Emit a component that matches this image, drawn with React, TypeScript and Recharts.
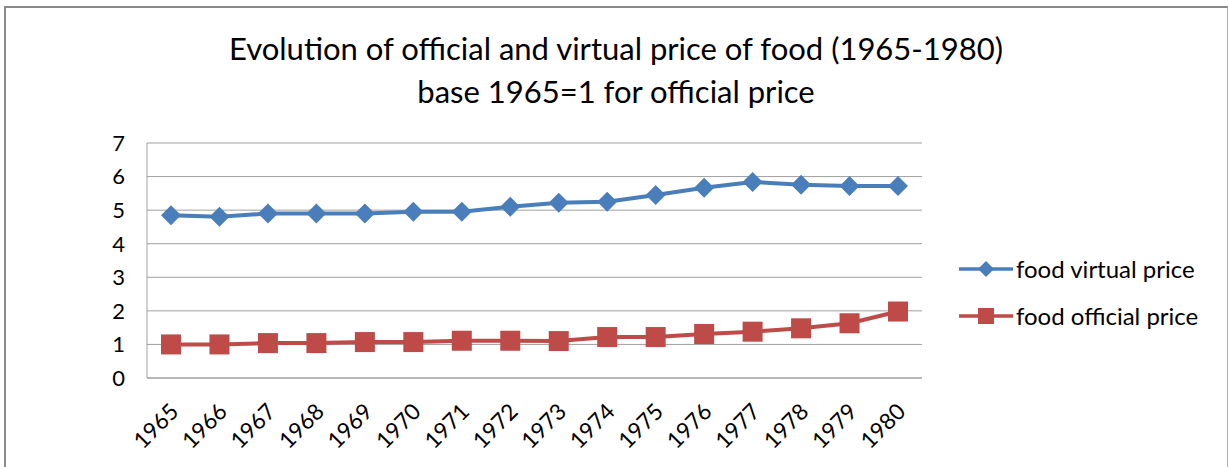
import { CartesianGrid, Legend, Line, LineChart, XAxis, YAxis } from "recharts";

const years = ["1965", "1966", "1967", "1968", "1969", "1970", "1971", "1972", "1973", "1974", "1975", "1976", "1977", "1978", "1979", "1980"];
const virtualPrice = [4.85, 4.8, 4.9, 4.9, 4.9, 4.95, 4.95, 5.1, 5.22, 5.25, 5.45, 5.67, 5.84, 5.76, 5.72, 5.72];
const officialPrice = [1.0, 1.0, 1.04, 1.04, 1.07, 1.07, 1.11, 1.11, 1.1, 1.22, 1.22, 1.31, 1.38, 1.48, 1.63, 1.98];
const yTicks = [0, 1, 2, 3, 4, 5, 6, 7];

const BLUE = "#4a7ebb";
const RED = "#be4b48";
const FONT = "Lato, 'Open Sans', sans-serif";

const chartData = years.map((year, i) => ({
  year,
  virtual: virtualPrice[i],
  official: officialPrice[i],
}));

function Diamond({ cx, cy, fill }: any) {
  if (cx == null || cy == null) return null;
  const r = 10;
  return <path d={`M${cx},${cy - r}L${cx + r},${cy}L${cx},${cy + r}L${cx - r},${cy}Z`} fill={fill} />;
}

function Square({ cx, cy, fill }: any) {
  if (cx == null || cy == null) return null;
  const r = 10;
  return <rect x={cx - r} y={cy - r} width={r * 2} height={r * 2} fill={fill} />;
}

function YearTick({ x, y, payload }: any) {
  return (
    <g transform={`translate(${x + 9},${y + 27})`}>
      <text x={0} y={0} textAnchor="end" transform="rotate(-45)" fill="#000" fontSize={22.5} fontFamily={FONT}>
        {payload.value}
      </text>
    </g>
  );
}

const legendItems = [
  { label: "food virtual price", color: BLUE, shape: "diamond" },
  { label: "food official price", color: RED, shape: "square" },
];

function ChartLegend() {
  return (
    <div>
      {legendItems.map((item) => (
        <div key={item.label} style={{ display: "flex", alignItems: "center", height: 47 }}>
          <svg width={58} height={20}>
            <line x1={2} y1={10} x2={56} y2={10} stroke={item.color} strokeWidth={3.5} />
            {item.shape === "diamond" ? (
              <path d="M29,2L37,10L29,18L21,10Z" fill={item.color} />
            ) : (
              <rect x={21} y={2} width={16} height={16} fill={item.color} />
            )}
          </svg>
          <span style={{ fontFamily: FONT, fontSize: 24, color: "#000", marginLeft: 1 }}>{item.label}</span>
        </div>
      ))}
    </div>
  );
}

export default function App() {
  return (
    <div style={{ position: "fixed", left: 0, top: 0, width: 1229, height: 467, background: "#fff", overflow: "hidden" }}>
      <div
        style={{
          position: "absolute",
          left: 0,
          top: 27,
          width: 1232,
          textAlign: "center",
          fontFamily: FONT,
          fontSize: 31,
          lineHeight: "43px",
          color: "#000",
        }}
      >
        Evolution of official and virtual price of food (1965-1980)
        <br />
        base 1965=1 for official price
      </div>
      <LineChart
        width={1229}
        height={467}
        data={chartData}
        margin={{ top: 143, right: 307, bottom: 29, left: 105 }}
        style={{ position: "absolute", left: 0, top: 0 }}
      >
        <CartesianGrid stroke="#a0a0a0" vertical={false} />
        <XAxis
          dataKey="year"
          height={60}
          tick={<YearTick />}
          tickLine={false}
          axisLine={{ stroke: "#a0a0a0" }}
          interval={0}
          padding={{ left: 24, right: 24 }}
        />
        <YAxis
          width={42}
          domain={[0, 7]}
          ticks={yTicks}
          tickLine={false}
          axisLine={{ stroke: "#a0a0a0" }}
          tick={{ fill: "#000", fontSize: 22, fontFamily: FONT }}
          tickMargin={16}
        />
        <Legend
          layout="vertical"
          align="center"
          verticalAlign="middle"
          content={<ChartLegend />}
          wrapperStyle={{ left: 957, top: 245, width: 270 }}
        />
        <Line
          dataKey="virtual"
          name="food virtual price"
          stroke={BLUE}
          strokeWidth={4}
          dot={<Diamond fill={BLUE} />}
          activeDot={false}
          isAnimationActive={false}
        />
        <Line
          dataKey="official"
          name="food official price"
          stroke={RED}
          strokeWidth={4}
          dot={<Square fill={RED} />}
          activeDot={false}
          isAnimationActive={false}
        />
      </LineChart>
      <div
        style={{
          position: "absolute",
          left: 4,
          top: 6,
          width: 1224,
          height: 480,
          borderTop: "2px solid #8a8a8a",
          borderLeft: "2px solid #8a8a8a",
          borderRight: "1px solid #b0b0b0",
          boxSizing: "border-box",
          pointerEvents: "none",
          zIndex: 2,
        }}
      />
    </div>
  );
}
